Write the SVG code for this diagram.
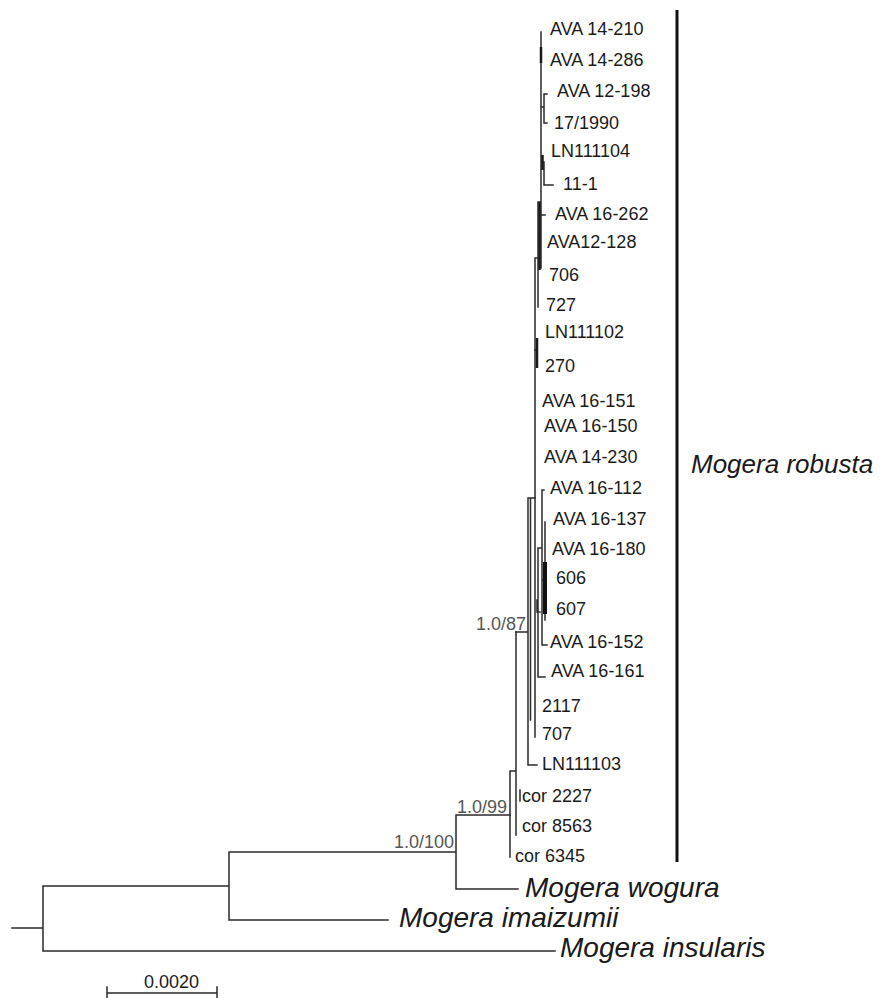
<svg xmlns="http://www.w3.org/2000/svg" width="889" height="998" viewBox="0 0 889 998">
  <style>
    .br { fill: none; stroke: #2a2a2a; stroke-width: 1.5; stroke-linecap: square; }
    .thk { fill: none; stroke: #1a1a1a; stroke-width: 2.5; }
    .lbl { font-family: "Liberation Sans", Arial, sans-serif; font-size: 18px; fill: #1a1a1a; }
    .sp { font-family: "Liberation Sans", Arial, sans-serif; font-size: 28px; font-style: italic; fill: #1a1a1a; }
    .sup { font-family: "Liberation Sans", Arial, sans-serif; font-size: 18px; fill: #555555; }
  </style>
  <rect width="889" height="998" fill="#ffffff"/>

  <!-- branches of the phylogram -->
  <g id="branches">
    <!-- root and outgroups -->
    <path class="br" d="M12,928 H43 M43,886 V951 M43,886 H229 M43,951 H555 M229,852 V920 M229,920 H388 M229,852 H456 M456,815 V889 M456,889 H518 M456,815 H510"/>
    <!-- cor samples -->
    <path class="br" d="M510,771 V857 M510,771 H516 M516,632 V835 M520,790 V801"/>
    <!-- 1.0/87 clade -->
    <path class="br" d="M516,632 H528 M528,498 V765 M528,765 H537 M528,498 H535 M530.5,498 V720"/>
    <!-- main polytomy -->
    <path class="br" d="M535,258 V737 M535,258 H538"/>
    <!-- AVA 16-112 .. AVA 16-161 group -->
    <path class="br" d="M538,548 V677 M538,677 H545 M538,548 H542 M542,490 V645 M542,645 H547 M542,490 H544 M545,522 V620 M542,580 H545 M537,600 V612 H540"/>
    <rect x="543" y="562" width="4" height="52" fill="#111111"/>
    <!-- upper group -->
    <path class="br" d="M541,32 V268 M541,107 H544 M544,94 V123 M544,94 H547 M544,123 H547 M541,162 H544 M544,162 V185 H553 M541,215 H545 M538,202 V307 M538,202 H541 M535,350 H537"/>
    <path class="thk" d="M541,47 V63 M542.5,155 V170 M539.5,202 V270 M537,338 V368"/>
  </g>

  <!-- clade bar -->
  <rect x="675.5" y="10" width="3" height="852" fill="#111111"/>

  <!-- support values -->
  <g id="support">
    <text class="sup" x="394" y="848">1.0/100</text>
    <text class="sup" x="457" y="813">1.0/99</text>
    <text class="sup" x="476" y="630">1.0/87</text>
  </g>

  <!-- sample leaves -->
  <g id="leaf-ava14-210"><text class="lbl" x="550" y="35">AVA 14-210</text></g>
  <g id="leaf-ava14-286"><text class="lbl" x="550" y="66">AVA 14-286</text></g>
  <g id="leaf-ava12-198"><text class="lbl" x="557" y="97">AVA 12-198</text></g>
  <g id="leaf-17-1990"><text class="lbl" x="554" y="129">17/1990</text></g>
  <g id="leaf-ln111104"><text class="lbl" x="551" y="157">LN111104</text></g>
  <g id="leaf-11-1"><text class="lbl" x="563" y="190">11-1</text></g>
  <g id="leaf-ava16-262"><text class="lbl" x="555" y="220">AVA 16-262</text></g>
  <g id="leaf-ava12-128"><text class="lbl" x="547" y="248">AVA12-128</text></g>
  <g id="leaf-706"><text class="lbl" x="549" y="281">706</text></g>
  <g id="leaf-727"><text class="lbl" x="546" y="311">727</text></g>
  <g id="leaf-ln111102"><text class="lbl" x="545" y="338">LN111102</text></g>
  <g id="leaf-270"><text class="lbl" x="545" y="372">270</text></g>
  <g id="leaf-ava16-151"><text class="lbl" x="542" y="407">AVA 16-151</text></g>
  <g id="leaf-ava16-150"><text class="lbl" x="544" y="432">AVA 16-150</text></g>
  <g id="leaf-ava14-230"><text class="lbl" x="544" y="463">AVA 14-230</text></g>
  <g id="leaf-ava16-112"><text class="lbl" x="550" y="494">AVA 16-112</text></g>
  <g id="leaf-ava16-137"><text class="lbl" x="553" y="525">AVA 16-137</text></g>
  <g id="leaf-ava16-180"><text class="lbl" x="552" y="555">AVA 16-180</text></g>
  <g id="leaf-606"><text class="lbl" x="556" y="584">606</text></g>
  <g id="leaf-607"><text class="lbl" x="556" y="615">607</text></g>
  <g id="leaf-ava16-152"><text class="lbl" x="550" y="648">AVA 16-152</text></g>
  <g id="leaf-ava16-161"><text class="lbl" x="551" y="677">AVA 16-161</text></g>
  <g id="leaf-2117"><text class="lbl" x="542" y="712">2117</text></g>
  <g id="leaf-707"><text class="lbl" x="542" y="740">707</text></g>
  <g id="leaf-ln111103"><text class="lbl" x="542" y="770">LN111103</text></g>
  <g id="leaf-cor2227"><text class="lbl" x="522" y="802">cor 2227</text></g>
  <g id="leaf-cor8563"><text class="lbl" x="522" y="832">cor 8563</text></g>
  <g id="leaf-cor6345"><text class="lbl" x="515" y="862">cor 6345</text></g>

  <!-- species -->
  <g id="clade-robusta"><text class="sp" x="691" y="473" style="font-size:26px">Mogera robusta</text></g>
  <g id="leaf-wogura"><text class="sp" x="525" y="897">Mogera wogura</text></g>
  <g id="leaf-imaizumii"><text class="sp" x="399" y="927">Mogera imaizumii</text></g>
  <g id="leaf-insularis"><text class="sp" x="560" y="957">Mogera insularis</text></g>

  <!-- scale bar -->
  <g id="scale">
    <text class="lbl" x="144" y="988">0.0020</text>
    <path class="br" d="M107,993 H217 M107,987 V998 M217,987 V998"/>
  </g>
</svg>
